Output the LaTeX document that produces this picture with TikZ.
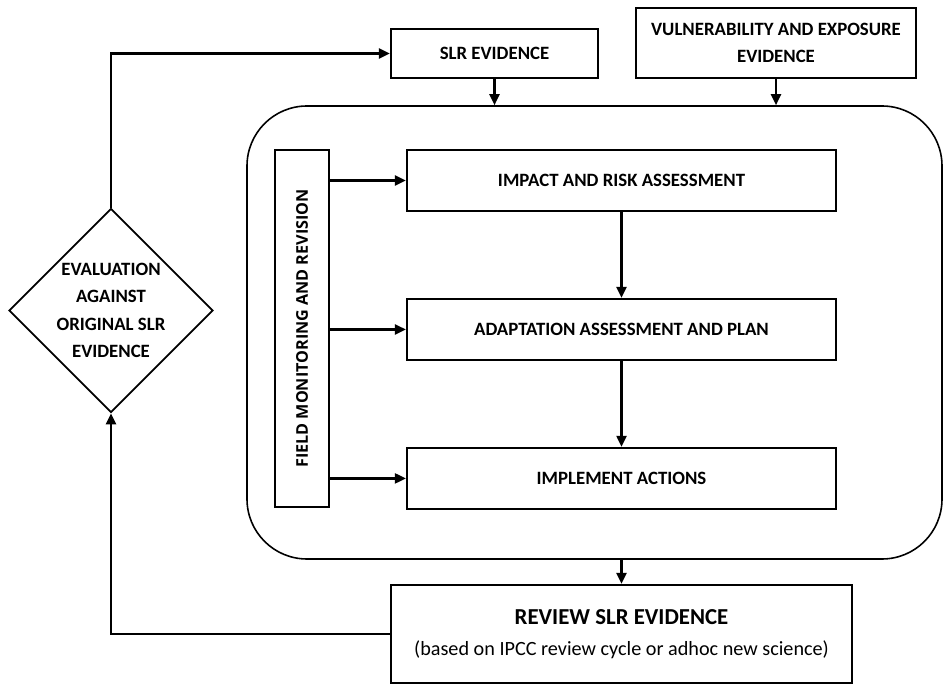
\documentclass[tikz,border=0pt]{standalone}
\usepackage{fontspec}
\setmainfont{Carlito}
\newfontfamily\fieldfont{Open Sans}
\usepackage{tikz}
\usetikzlibrary{shapes.geometric,arrows.meta}
\usetikzlibrary{positioning}
\usetikzlibrary{fit}
\usetikzlibrary{backgrounds}
\tikzstyle{region}=[rectangle, draw, line width=0.9pt, inner sep=0pt, rounded corners=1.2cm]
\tikzstyle{block}=[rectangle, draw, line width=1.3pt, inner sep=2pt, align=center,
        minimum width=8.58cm, minimum height=1.22cm,
        font=\bfseries\fontsize{10.7}{15.7}\selectfont]
\tikzstyle{evidence}=[block, minimum width=4.14cm, minimum height=0.98cm]
\tikzstyle{monitor}=[rectangle, draw, line width=1.3pt, rotate=90,
        minimum width=7.14cm, minimum height=1.08cm,
        font=\fieldfont\bfseries\fontsize{9.2}{11}\selectfont]
\tikzstyle{decision}=[diamond, draw, line width=1pt, aspect=1, inner sep=0pt,
        minimum width=3.96cm, minimum height=3.94cm, align=center,
        font=\bfseries\fontsize{10.7}{15.7}\selectfont]
\tikzstyle{review}=[block, minimum width=9.22cm, minimum height=1.96cm,
        font=\fontsize{11.5}{18}\selectfont]
\tikzstyle{flow}=[draw, line width=1.3pt, -{Triangle[length=0.22cm,width=0.2cm]}]
\begin{document}
\begin{tikzpicture}
      [x=0.02cm, y=-0.02cm, node distance=2.98cm]
      \useasboundingbox (0,0) rectangle (944,685);
      % Place nodes
      \node [block] (impact) at (621.5,180.5) {IMPACT AND RISK ASSESSMENT};
      \node [block, below of=impact] (adapt) {ADAPTATION ASSESSMENT AND PLAN};
      \node [block, below of=adapt] (implement) {IMPLEMENT ACTIONS};
      \node [monitor] (field) at (302,328.5) {FIELD MONITORING AND REVISION};
      \node [evidence] (slr) at (494.5,53.5) {SLR EVIDENCE};
      \node [evidence, minimum width=5.6cm, minimum height=1.4cm] (vuln) at (776,43)
        {VULNERABILITY AND EXPOSURE\\EVIDENCE};
      \node [decision] (evaluation) at (111,310.5) {EVALUATION\\AGAINST\\ORIGINAL SLR\\EVIDENCE};
      \node [review] (review) at (621.5,634)
        {{\bfseries\fontsize{13}{18}\selectfont REVIEW SLR EVIDENCE}\\(based on IPCC review cycle or adhoc new science)};
      \coordinate (rtl) at (247,106);
      \coordinate (rbr) at (942,559);
      \begin{pgfonlayer}{background}
        \node [region, fit=(rtl) (rbr)] (region) {};
      \end{pgfonlayer}
      % Draw edges
      \draw [flow] (evaluation.north) |- (slr.west);
      \draw [flow] (review.west) -| (evaluation.south);
      \draw [flow] (slr.south) -- (slr.south |- region.north);
      \draw [flow] (vuln.south) -- (vuln.south |- region.north);
      \draw [flow] (impact) -- (adapt);
      \draw [flow] (adapt) -- (implement);
      \draw [flow] (field.south |- impact) -- (impact.west);
      \draw [flow] (field.south |- adapt) -- (adapt.west);
      \draw [flow] (field.south |- implement) -- (implement.west);
      \draw [flow] (review |- region.south) -- (review.north);
    \end{tikzpicture}
\end{document}
